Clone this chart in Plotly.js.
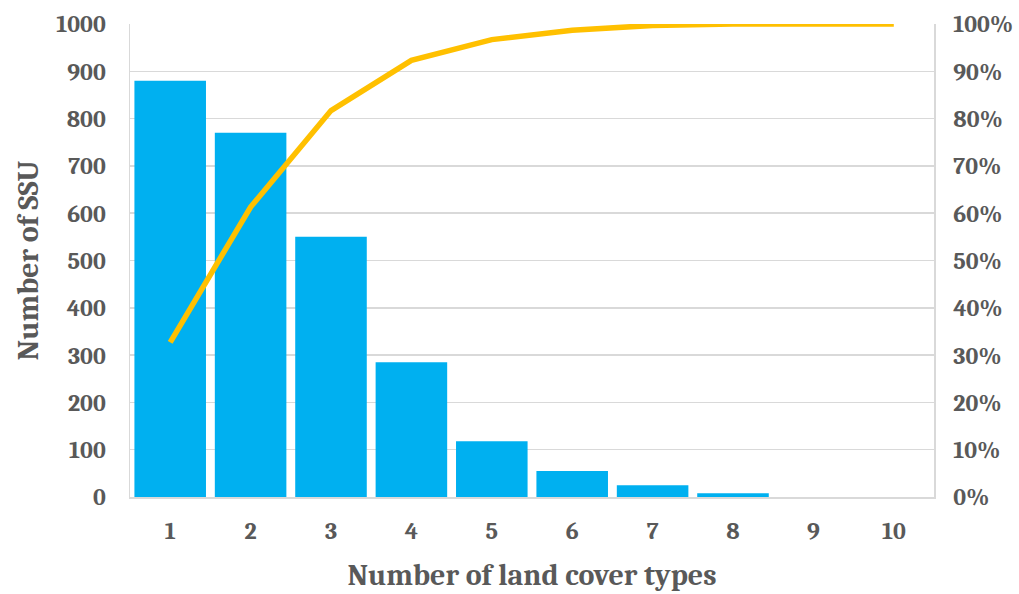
<!DOCTYPE html>
<html>
<head>
<meta charset="utf-8">
<script src="https://cdn.plot.ly/plotly-3.0.1.min.js"></script>
<style>
  html, body { margin: 0; padding: 0; background: #fff; }
  #chart { width: 1019px; height: 594px; }
</style>
</head>
<body>
<div id="chart"></div>
<script>
// Number of land cover types per SSU (Pareto chart)
const landCoverTypes = ['1', '2', '3', '4', '5', '6', '7', '8', '9', '10'];
const ssuCounts = [880, 770, 550, 285, 118, 55, 25, 8, 0, 0];
const cumulativeShare = [0.327, 0.613, 0.817, 0.923, 0.967, 0.987, 0.997, 1.0, 1.0, 1.0];

const leftTicks = [0, 100, 200, 300, 400, 500, 600, 700, 800, 900, 1000];
const rightTicks = [0, 0.1, 0.2, 0.3, 0.4, 0.5, 0.6, 0.7, 0.8, 0.9, 1.0];

const fontFamily = 'Cambria, "DejaVu Serif", "Liberation Serif", serif';
const textGrey = '#595959';
const tickFont = { family: fontFamily, size: 24, color: textGrey, weight: 'bold' };
const titleFont = { family: fontFamily, size: 30, color: textGrey, weight: 'bold' };

const traces = [
  {
    type: 'bar',
    x: landCoverTypes,
    y: ssuCounts,
    marker: { color: '#00b0f0', line: { width: 0 } },
    name: 'Number of SSU'
  },
  {
    type: 'scatter',
    mode: 'lines',
    x: landCoverTypes,
    y: cumulativeShare,
    yaxis: 'y2',
    line: { color: '#ffc000', width: 5.5, shape: 'linear' },
    name: 'Cumulative %'
  }
];

const layout = {
  width: 1019,
  height: 594,
  margin: { l: 130, r: 85, t: 24, b: 97 },
  paper_bgcolor: '#ffffff',
  plot_bgcolor: '#ffffff',
  showlegend: false,
  bargap: 0.11,
  font: { family: fontFamily, color: textGrey, size: 19 },
  xaxis: {
    type: 'category',
    tickfont: tickFont,
    ticks: '',
    ticklabelstandoff: 12,
    showgrid: false,
    showline: true,
    linecolor: '#d9d9d9',
    linewidth: 1.5,
    zeroline: false,
    title: { text: 'Number of land cover types', font: titleFont, standoff: 19 }
  },
  yaxis: {
    range: [0, 1000],
    tickvals: leftTicks,
    ticktext: leftTicks.map(String),
    tickfont: tickFont,
    ticks: '',
    ticklabelstandoff: 18,
    showgrid: true,
    gridcolor: '#d9d9d9',
    gridwidth: 1.5,
    showline: true,
    linecolor: '#d9d9d9',
    linewidth: 1.5,
    zeroline: false,
    title: { text: 'Number of SSU', font: titleFont, standoff: 9 }
  },
  yaxis2: {
    overlaying: 'y',
    side: 'right',
    range: [0, 1],
    tickvals: rightTicks,
    ticktext: rightTicks.map(v => Math.round(v * 100) + '%'),
    tickfont: tickFont,
    ticks: '',
    ticklabelstandoff: 13,
    showgrid: false,
    showline: true,
    linecolor: '#d9d9d9',
    linewidth: 1.5,
    zeroline: false
  }
};

Plotly.newPlot('chart', traces, layout, { displayModeBar: false, staticPlot: true });
</script>
</body>
</html>
